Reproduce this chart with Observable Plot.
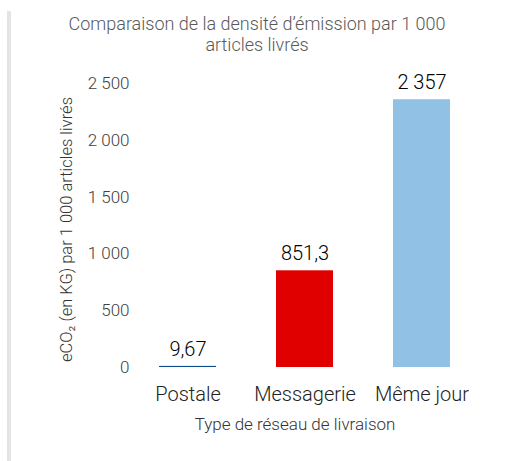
<!DOCTYPE html>
<html>
<head>
<meta charset="utf-8">
<script src="https://cdn.jsdelivr.net/npm/d3@7"></script>
<script src="https://cdn.jsdelivr.net/npm/@observablehq/plot@0.6"></script>
<style>
  html, body { margin: 0; padding: 0; background: #fff; }
  #wrap { position: relative; width: 516px; height: 461px; overflow: hidden; font-family: Roboto, "DejaVu Sans", sans-serif; }
  #bar { position: absolute; left: 7px; top: 11px; width: 4px; height: 460px; background: #e3e4e6; }
  #title { height: 46px; padding-top: 13px; width: 514px; text-align: center; font-size: 18px; line-height: 21px; color: #595959; font-weight: 300; }
  #chart svg { display: block; }
</style>
</head>
<body>
<div id="wrap">
  <div id="bar"></div>
  <div id="title">Comparaison de la densité d’émission par 1 000<br>articles livrés</div>
  <div id="chart"></div>
</div>
<script>
const categories = ["Postale", "Messagerie", "Même jour"];
const values = [9.67, 851.3, 2357];
const colors = ["#0b4a8b", "#e00000", "#92c1e6"];
const yTicks = [0, 500, 1000, 1500, 2000, 2500];
const yTitle = "eCO₂ (en KG) par 1 000 articles livrés";
const xTitle = "Type de réseau de livraison";

const data = categories.map((c, i) => ({cat: c, value: values[i]}));
const locale = d3.formatLocale({decimal: ",", thousands: "\u00a0", grouping: [3], currency: ["", "€"]});
const fmtTick = locale.format(",d");
const fmtVal = locale.format(",~f");

const chart = Plot.plot({
  width: 516,
  height: 401,
  marginTop: 24,
  marginBottom: 93,
  marginLeft: 129,
  marginRight: 36,
  style: {fontFamily: "Roboto, sans-serif", background: "white"},
  x: {domain: categories, paddingInner: 0.513, paddingOuter: 0.2565, label: null},
  y: {domain: [0, 2500], label: null},
  color: {domain: categories, range: colors},
  marks: [
    Plot.axisY({ticks: yTicks, tickSize: 0, tickPadding: 0, tickFormat: fmtTick, fontSize: 17, fontWeight: 300, color: "#404040", label: null}),
    Plot.axisX({tickSize: 0, tickPadding: 19, fontSize: 20, fontWeight: 300, color: "#222222", label: null}),
    Plot.barY(data, {x: "cat", y: "value", fill: "cat"}),
    Plot.text(data, {x: "cat", y: "value", text: d => fmtVal(d.value), dy: -17, fontSize: 20, fontWeight: 300, fill: "#000000"}),
    Plot.text([xTitle], {frameAnchor: "bottom", dy: 62, dx: -10, fontSize: 17, fontWeight: 300, fill: "#333333"}),
    Plot.text([yTitle], {frameAnchor: "left", textAnchor: "middle", rotate: -90, dx: -63, dy: 4, fontSize: 16.5, fontWeight: 300, fill: "#333333"})
  ]
});
document.getElementById("chart").appendChild(chart);
</script>
</body>
</html>
